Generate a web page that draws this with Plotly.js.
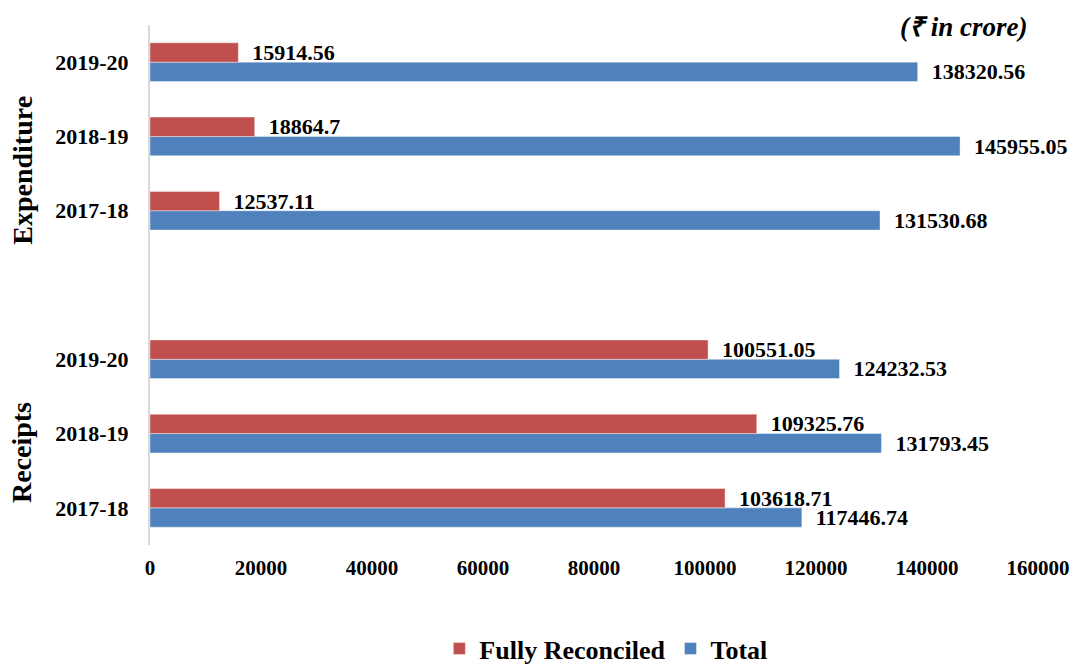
<!DOCTYPE html>
<html>
<head>
<meta charset="utf-8">
<script src="https://cdn.plot.ly/plotly-3.0.1.min.js"></script>
<style>html,body{margin:0;padding:0;background:#fff;}#chart{width:1078px;height:666px;}</style>
</head>
<body>
<div id="chart"></div>
<script>
var years = ['2017-18', '2018-19', '2019-20'];
var receiptsReconciled = [103618.71, 109325.76, 100551.05];
var receiptsTotal = [117446.74, 131793.45, 124232.53];
var expenditureReconciled = [12537.11, 18864.7, 15914.56];
var expenditureTotal = [131530.68, 145955.05, 138320.56];
var xTicks = [0, 20000, 40000, 60000, 80000, 100000, 120000, 140000, 160000];

var cats = [];
var tickText = [];
years.forEach(function (y) { cats.push('Receipts ' + y); tickText.push(y); });
cats.push(' ');
tickText.push('');
years.forEach(function (y) { cats.push('Expenditure ' + y); tickText.push(y); });

var reconciledVals = receiptsReconciled.concat([null], expenditureReconciled);
var totalVals = receiptsTotal.concat([null], expenditureTotal);
function lbl(v) { return v === null ? '' : '\u00a0\u00a0' + String(v); }

var font = 'Liberation Serif, Times New Roman, serif';

var traces = [
  {
    type: 'bar', orientation: 'h', name: 'Total',
    y: cats, x: totalVals,
    text: totalVals.map(lbl), textposition: 'outside', cliponaxis: false, constraintext: 'none',
    textfont: {family: font, size: 22, color: '#000', weight: 'bold'},
    marker: {color: '#4F81BD', line: {color: 'rgba(255,255,255,0.4)', width: 1}},
    hoverinfo: 'x'
  },
  {
    type: 'bar', orientation: 'h', name: 'Fully Reconciled',
    y: cats, x: reconciledVals,
    text: reconciledVals.map(lbl), textposition: 'outside', cliponaxis: false, constraintext: 'none',
    textfont: {family: font, size: 22, color: '#000', weight: 'bold'},
    marker: {color: '#C0504D', line: {color: 'rgba(255,255,255,0.4)', width: 1}},
    hoverinfo: 'x'
  }
];

var layout = {
  width: 1078, height: 666,
  margin: {l: 150, r: 40, t: 25, b: 121},
  paper_bgcolor: '#fff', plot_bgcolor: '#fff',
  barmode: 'group', bargap: 0.48, bargroupgap: 0,
  font: {family: font, size: 21, color: '#000', weight: 'bold'},
  showlegend: true,
  legend: {
    orientation: 'h', traceorder: 'reversed',
    xref: 'container', yref: 'container',
    x: 0.562, xanchor: 'center', y: 0.026, yanchor: 'middle',
    font: {family: font, size: 26, color: '#000', weight: 'bold'},
    itemwidth: 30
  },
  xaxis: {
    range: [0, 160000], tickvals: xTicks, ticktext: xTicks.map(String),
    showgrid: false, zeroline: false, showline: false, ticks: '',
    ticklabelstandoff: 8,
    tickfont: {family: font, size: 21, color: '#000', weight: 'bold'},
    fixedrange: true
  },
  yaxis: {
    type: 'category', categoryorder: 'array', categoryarray: cats,
    tickvals: cats, ticktext: tickText,
    showgrid: false, zeroline: false, showline: true, linecolor: '#D9D9D9', linewidth: 2,
    ticks: '', ticklabelstandoff: 15,
    tickfont: {family: font, size: 22, color: '#000', weight: 'bold'},
    fixedrange: true
  },
  annotations: [
    {xref: 'paper', yref: 'paper', x: -0.144, y: 0.72, text: '<b>Expenditure</b>', textangle: -90,
     showarrow: false, xanchor: 'center', yanchor: 'middle', font: {family: font, size: 28, color: '#000'}},
    {xref: 'paper', yref: 'paper', x: -0.144, y: 0.177, text: '<b>Receipts</b>', textangle: -90,
     showarrow: false, xanchor: 'center', yanchor: 'middle', font: {family: font, size: 28, color: '#000'}},
    {xref: 'paper', yref: 'paper', x: 0.99, y: 0.996, text: '<b><i>(₹ in crore)</i></b>',
     showarrow: false, xanchor: 'right', yanchor: 'middle', font: {family: font, size: 27, color: '#000'}}
  ]
};

Plotly.newPlot('chart', traces, layout, {displayModeBar: false, staticPlot: true});
</script>
</body>
</html>
